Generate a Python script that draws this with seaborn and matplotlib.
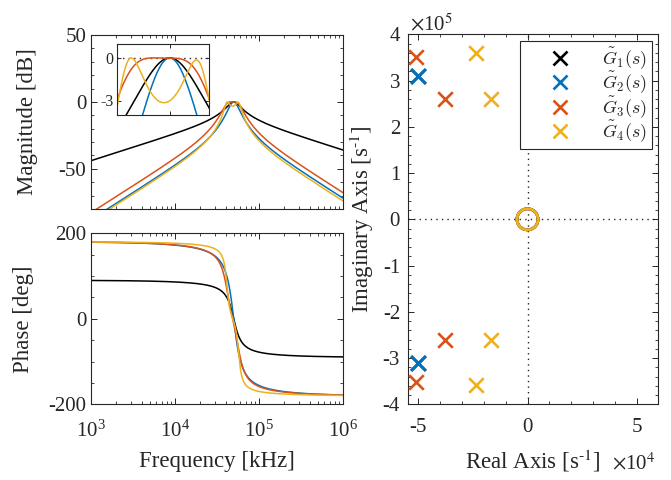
import numpy as np
import pandas as pd
import matplotlib
matplotlib.use("Agg")
import matplotlib.pyplot as plt
import seaborn as sns
from matplotlib.ticker import MultipleLocator, LogLocator, NullFormatter, FixedLocator, LogFormatterMathtext
from matplotlib.font_manager import FontProperties
from matplotlib.lines import Line2D

# ---------------- data ----------------
systems = ["G1", "G2", "G3", "G4"]
legend_labels = [r"$\tilde{G}_1(s)$", r"$\tilde{G}_2(s)$", r"$\tilde{G}_3(s)$", r"$\tilde{G}_4(s)$"]
colors = ["#000000", "#0072BD", "#D95319", "#EDB120"]

# upper-half-plane poles [1/s] (conjugates are implied)
g1_poles = [-5.0e4 + 3.1e5j]
g2_poles = [-5.0e4 + 3.1e5j, -5.0e4 + 3.1e5j]
g3_poles = [-5.08e4 + 3.51e5j, -3.74e4 + 2.60e5j]
g4_poles = [-2.36e4 + 3.585e5j, -1.68e4 + 2.60e5j]
# number of zeros at the origin for each system
zero_orders = [1, 2, 2, 2]

freq_range = [1e3, 1e6]
mag_ticks = [-50, 0, 50]
phase_ticks = [-200, 0, 200]
inset_xlim = [3.95e4, 5.97e4]
inset_yticks = [-3, 0]

all_poles = [g1_poles, g2_poles, g3_poles, g4_poles]

# ---------------- frequency responses ----------------
f = np.logspace(3, 6, 3000)
f_fine = np.logspace(np.log10(2e4), np.log10(1.2e5), 20000)


def response(freq, poles, nz):
    s = 2j * np.pi * freq
    num = s ** nz
    den = np.ones_like(s)
    ph = np.full(freq.shape, 90.0 * nz)
    for p in poles:
        for q in (p, np.conj(p)):
            den = den * (s - q)
            ph = ph - np.degrees(np.angle(s - q))
    return np.abs(num / den), ph


rows = []
for name, poles, nz in zip(systems, all_poles, zero_orders):
    peak = response(f_fine, poles, nz)[0].max()
    mag, ph = response(f, poles, nz)
    rows.append(pd.DataFrame({"f": f, "mag": 20 * np.log10(mag / peak), "phase": ph, "sys": name}))
df = pd.concat(rows, ignore_index=True)

pz_rows = []
for name, poles in zip(systems, all_poles):
    for p in poles:
        for q in (p, np.conj(p)):
            pz_rows.append({"re": q.real, "im": q.imag, "sys": name})
pz = pd.DataFrame(pz_rows)

# ---------------- style ----------------
sns.set_theme(style="ticks")
plt.rcParams.update({
    "font.family": ["Liberation Serif", "DejaVu Serif"],
    "mathtext.fontset": "stix",
    "axes.unicode_minus": False,
    "axes.edgecolor": "0.15",
    "axes.linewidth": 0.8,
    "axes.labelcolor": "0.15",
    "text.color": "0.15",
    "xtick.color": "0.15",
    "ytick.color": "0.15",
    "xtick.direction": "in",
    "ytick.direction": "in",
    "xtick.top": True,
    "ytick.right": True,
    "xtick.major.size": 4,
    "ytick.major.size": 4,
    "xtick.minor.size": 2.2,
    "ytick.minor.size": 2.2,
    "xtick.major.width": 0.7,
    "ytick.major.width": 0.7,
    "xtick.minor.width": 0.6,
    "ytick.minor.width": 0.6,
    "xtick.labelsize": 15,
    "ytick.labelsize": 15,
    "axes.labelsize": 16.5,
})

palette = dict(zip(systems, colors))
fig = plt.figure(figsize=(6.71, 4.80), dpi=100)
W, H = 671.0, 480.0


def fig_rect(l, t, r, b):
    return [l / W, 1 - b / H, (r - l) / W, (b - t) / H]


ax_mag = fig.add_axes(fig_rect(91, 35, 343, 209))
ax_ph = fig.add_axes(fig_rect(91, 233.3, 343, 404.3))
ax_pz = fig.add_axes(fig_rect(407.7, 34.3, 658.3, 404.3))
ax_in = fig.add_axes(fig_rect(117.3, 43.7, 209.3, 114.7))

# magnitude
sns.lineplot(data=df, x="f", y="mag", hue="sys", palette=palette, legend=False,
             estimator=None, sort=False, lw=1.1, ax=ax_mag)
ax_mag.set_xscale("log")
ax_mag.set_xlim(freq_range)
ax_mag.set_ylim(-80, 50)
ax_mag.yaxis.set_major_locator(FixedLocator(mag_ticks))
ax_mag.yaxis.set_minor_locator(MultipleLocator(10))
ax_mag.xaxis.set_major_formatter(NullFormatter())
ax_mag.xaxis.set_minor_formatter(NullFormatter())
ax_mag.set_xlabel("")
ax_mag.set_ylabel("Magnitude [dB]")
ax_mag.yaxis.set_label_coords(-0.21, 0.5)

# phase
sns.lineplot(data=df, x="f", y="phase", hue="sys", palette=palette, legend=False,
             estimator=None, sort=False, lw=1.1, ax=ax_ph)
ax_ph.set_xscale("log")
ax_ph.set_xlim(freq_range)
ax_ph.set_ylim(-200, 200)
ax_ph.yaxis.set_major_locator(FixedLocator(phase_ticks))
ax_ph.yaxis.set_minor_locator(MultipleLocator(50))
ax_ph.xaxis.set_major_locator(LogLocator(base=10, numticks=10))
ax_ph.xaxis.set_major_formatter(LogFormatterMathtext())
ax_ph.tick_params(axis="x", which="major", pad=11.5)
ax_ph.set_xlabel("Frequency [kHz]")
ax_ph.set_ylabel("Phase [deg]")
ax_ph.yaxis.set_label_coords(-0.226, 0.5)
ax_ph.xaxis.set_label_coords(0.5, -0.273)

for a in (ax_mag, ax_ph):
    a.xaxis.set_minor_locator(LogLocator(base=10, subs=np.arange(2, 10), numticks=20))
    a.xaxis.set_minor_formatter(NullFormatter())

# inset
sns.lineplot(data=df, x="f", y="mag", hue="sys", palette=palette, legend=False,
             estimator=None, sort=False, lw=1.1, ax=ax_in)
ax_in.axhline(0, color="0.15", ls=(0, (1, 3)), lw=1.0, zorder=0)
ax_in.set_xscale("log")
ax_in.set_xlim(inset_xlim)
ax_in.set_ylim(-4, 1)
ax_in.xaxis.set_major_locator(FixedLocator([5e4]))
ax_in.xaxis.set_minor_locator(FixedLocator([]))
ax_in.xaxis.set_major_formatter(NullFormatter())
ax_in.xaxis.set_minor_formatter(NullFormatter())
ax_in.yaxis.set_major_locator(FixedLocator(inset_yticks))
ax_in.yaxis.set_minor_locator(FixedLocator([]))
ax_in.tick_params(labelsize=11.5, length=3, pad=3)
ax_in.set_xlabel("")
ax_in.set_ylabel("")

# pole-zero map
ax_pz.axhline(0, color="0.15", ls=(0, (1, 3)), lw=1.0, zorder=0)
ax_pz.axvline(0, color="0.15", ls=(0, (1, 3)), lw=1.0, zorder=0)
for name, c in zip(systems, colors):
    sub = pz[pz["sys"] == name]
    sns.scatterplot(data=sub, x="re", y="im", marker="x", color=c, s=110,
                    linewidth=1.9, ax=ax_pz, legend=False, zorder=3)
for name, c in zip(systems, colors):
    sns.scatterplot(x=[0.0], y=[0.0], marker="o", s=230, facecolors="none",
                    edgecolors=c, linewidth=2.0, ax=ax_pz, legend=False, zorder=3)
ax_pz.set_xlim(-5.45e4, 5.95e4)
ax_pz.set_ylim(-4e5, 4e5)
ax_pz.xaxis.set_major_locator(MultipleLocator(5e4))
ax_pz.xaxis.set_minor_locator(MultipleLocator(1e4))
ax_pz.yaxis.set_major_locator(MultipleLocator(1e5))
ax_pz.yaxis.set_minor_locator(MultipleLocator(2e4))
ax_pz.xaxis.set_major_formatter(plt.FuncFormatter(lambda v, _: f"{v / 1e4:g}"))
ax_pz.yaxis.set_major_formatter(plt.FuncFormatter(lambda v, _: f"{v / 1e5:g}"))
ax_pz.tick_params(axis="x", which="major", pad=10)
ax_pz.tick_params(axis="y", which="major", pad=5.5)
ax_pz.set_xlabel(r"Real Axis [s$^{\text{-1}}$]")
ax_pz.set_ylabel(r"Imaginary Axis [s$^{\text{-1}}$]")
ax_pz.yaxis.set_label_coords(-0.126, 0.5)
ax_pz.xaxis.set_label_coords(0.5, -0.118)
fig.text(410 / W, 1 - 30 / H, r"$\times\mathregular{10}^{5}$", fontsize=15, ha="left", va="baseline")
fig.text(612 / W, 1 - 469 / H, r"$\times\mathregular{10}^{4}$", fontsize=15, ha="left", va="baseline")

handles = [Line2D([], [], ls="none", marker="x", ms=10.5, mew=1.9, color=c) for c in colors]
leg = ax_pz.legend(handles, legend_labels, loc="upper right", frameon=True, fancybox=False,
                   edgecolor="0.15", framealpha=1, borderpad=0.25, labelspacing=-0.08,
                   handletextpad=0.4, borderaxespad=0.35, handlelength=3.9,
                   prop=FontProperties(family="Liberation Serif", size=13, math_fontfamily="cm"))
leg.get_frame().set_linewidth(0.8)

for a in (ax_mag, ax_ph, ax_pz, ax_in):
    for sp in a.spines.values():
        sp.set_visible(True)

fig.savefig("out.png", dpi=100)
